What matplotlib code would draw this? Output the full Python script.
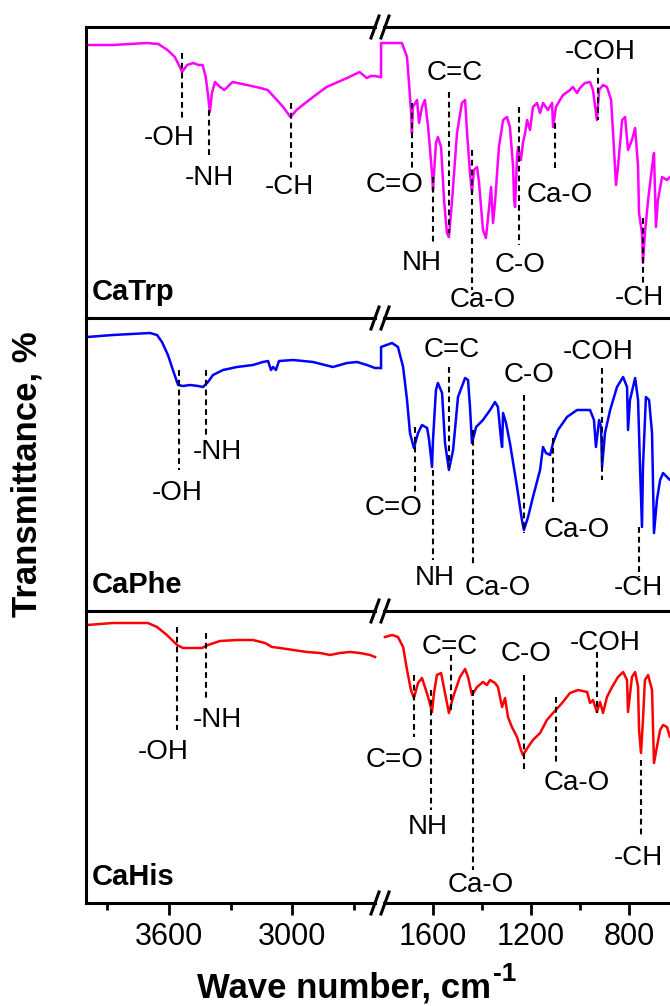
import matplotlib
matplotlib.use("Agg")
import matplotlib.pyplot as plt
from matplotlib.lines import Line2D

plt.rcParams['font.family'] = ['Liberation Sans', 'DejaVu Sans']

# ---- data (wave number, cm-1 / transmittance, arb. units) ----
trp_left_wn = [3995, 3870, 3705, 3650, 3605, 3570, 3545, 3535, 3510, 3480, 3455, 3435, 3420, 3410,
               3400, 3390, 3375, 3350, 3330, 3290, 3220, 3155, 3120, 3075, 3045, 3010, 2980, 2950,
               2900, 2835, 2735, 2675, 2640, 2620, 2600, 2575]
trp_left_t = [273, 273, 275, 274, 268, 261, 251, 246, 253, 255, 253, 253, 241, 225, 206, 225, 236,
              231, 228, 236, 233, 230, 228, 218, 211, 201, 208, 213, 221, 231, 240, 246, 240, 242,
              242, 241]
trp_right_wn = [1812, 1812, 1727, 1706, 1698, 1690, 1686, 1682, 1665, 1657, 1645, 1633, 1620, 1604,
                1600, 1588, 1580, 1567, 1555, 1543, 1535, 1522, 1502, 1482, 1469, 1461, 1449, 1441,
                1433, 1420, 1412, 1396, 1384, 1375, 1363, 1355, 1347, 1331, 1314, 1298, 1286, 1273,
                1269, 1265, 1257, 1253, 1241, 1233, 1224, 1216, 1204, 1192, 1175, 1163, 1151, 1131,
                1114, 1110, 1098, 1082, 1069, 1041, 1029, 1012, 1000, 980, 959, 947, 931, 922, 906,
                890, 873, 865, 853, 845, 828, 816, 804, 788, 775, 763, 759, 747, 743, 735, 722, 706,
                698, 690, 682, 665, 645, 633, 612]
trp_right_t = [241, 275, 275, 261, 235, 208, 185, 211, 218, 195, 211, 218, 191, 145, 128, 175, 181,
               171, 118, 85, 81, 118, 185, 215, 218, 185, 145, 125, 148, 151, 135, 88, 80, 101, 131,
               95, 115, 171, 198, 201, 191, 151, 118, 111, 161, 171, 158, 175, 185, 198, 188, 211,
               215, 205, 215, 208, 215, 191, 211, 218, 223, 228, 231, 225, 230, 235, 236, 228, 198,
               228, 233, 231, 218, 185, 133, 151, 198, 201, 168, 178, 190, 151, 105, 85, 55, 85, 118,
               151, 165, 91, 118, 141, 138, 141, 143]

phe_left_wn = [3995, 3869, 3690, 3656, 3632, 3603, 3579, 3554, 3530, 3496, 3457, 3433, 3409, 3385,
               3336, 3269, 3191, 3143, 3118, 3104, 3094, 3080, 3065, 2997, 2900, 2804, 2736, 2687,
               2639, 2600, 2575]
phe_left_t = [274, 276, 278, 276, 269, 256, 241, 226, 225, 226, 225, 224, 229, 236, 241, 244, 246,
              249, 250, 241, 244, 241, 250, 251, 249, 244, 248, 249, 246, 243, 243]
phe_right_wn = [1812, 1812, 1767, 1743, 1722, 1706, 1694, 1678, 1661, 1645, 1624, 1616, 1604, 1600,
                1588, 1580, 1563, 1551, 1535, 1518, 1498, 1469, 1457, 1449, 1441, 1424, 1396, 1367,
                1347, 1335, 1322, 1318, 1314, 1302, 1286, 1257, 1237, 1229, 1212, 1192, 1163, 1151,
                1139, 1122, 1110, 1090, 1053, 1012, 959, 943, 935, 922, 914, 910, 898, 877, 849, 824,
                808, 804, 796, 775, 763, 755, 747, 743, 731, 718, 706, 698, 686, 673, 661, 645, 633,
                612]
phe_right_t = [243, 264, 268, 264, 244, 211, 178, 163, 178, 186, 183, 171, 144, 171, 221, 228, 218,
               168, 141, 161, 214, 233, 231, 204, 168, 184, 191, 201, 209, 204, 171, 164, 198, 188,
               168, 124, 91, 81, 94, 114, 141, 164, 158, 156, 168, 181, 194, 201, 201, 191, 164, 191,
               184, 144, 178, 201, 224, 234, 224, 181, 211, 233, 211, 144, 84, 144, 214, 211, 178, 78,
               111, 131, 138, 134, 131, 131]

his_left_wn = [3995, 3869, 3700, 3656, 3608, 3559, 3530, 3482, 3438, 3409, 3351, 3269, 3191, 3133,
               3099, 3060, 2997, 2929, 2866, 2818, 2770, 2721, 2673, 2624, 2600]
his_left_t = [278, 280, 280, 276, 268, 258, 255, 255, 255, 258, 262, 263, 263, 260, 256, 255, 253,
              251, 250, 248, 250, 251, 250, 248, 246]
his_right_wn = [1796, 1767, 1743, 1722, 1706, 1690, 1678, 1661, 1645, 1633, 1620, 1604, 1596, 1584,
                1567, 1551, 1535, 1518, 1490, 1469, 1457, 1441, 1420, 1396, 1380, 1367, 1347, 1335,
                1318, 1306, 1294, 1278, 1257, 1241, 1233, 1212, 1192, 1163, 1135, 1110, 1073, 1041,
                1008, 971, 959, 947, 931, 918, 906, 890, 869, 845, 824, 808, 804, 788, 775, 763, 759,
                751, 743, 735, 722, 706, 698, 686, 673, 661, 645, 633, 612]
his_right_t = [266, 268, 266, 256, 233, 213, 205, 220, 225, 216, 206, 191, 210, 228, 230, 210, 190,
               206, 226, 234, 226, 208, 216, 221, 218, 223, 220, 216, 196, 205, 186, 176, 166, 153,
               148, 156, 163, 170, 183, 190, 200, 210, 213, 211, 200, 203, 191, 201, 190, 206, 216,
               226, 231, 223, 191, 226, 231, 216, 173, 150, 183, 223, 228, 213, 140, 156, 173, 178,
               176, 166, 163]

panel_names = ['CaTrp', 'CaPhe', 'CaHis']
colors = ['#ff00ff', '#0000ff', '#ff0000']

# band assignments: (label, wave number, dash top, dash bottom, label wn, label y)
trp_marks = [('-OH', 3535, 265, 200, 3598, 180), ('-NH', 3404, 208, 161, 3404, 140),
             ('-CH', 3007, 215, 150, 3017, 131),
             ('C=O', 1686, 215, 150, 1755, 133), ('NH', 1600, 141, 76, 1645, 55),
             ('C=C', 1535, 226, 85, 1510, 245), ('Ca-O', 1441, 168, 28, 1396, 18),
             ('C-O', 1249, 211, 73, 1245, 53), ('Ca-O', 1102, 195, 150, 1082, 123),
             ('-COH', 926, 250, 198, 918, 266), ('-CH', 743, 100, 35, 759, 20)]
phe_marks = [('-OH', 3550, 241, 141, 3559, 118), ('-NH', 3419, 241, 176, 3365, 159),
             ('C=O', 1673, 184, 118, 1763, 103), ('NH', 1600, 141, 51, 1592, 33),
             ('C=C', 1535, 244, 144, 1522, 261), ('Ca-O', 1437, 181, 44, 1335, 23),
             ('C-O', 1229, 216, 78, 1208, 236), ('Ca-O', 1110, 173, 109, 1012, 81),
             ('-COH', 910, 243, 131, 927, 259), ('-CH', 759, 84, 34, 763, 23)]
his_marks = [('-OH', 3559, 276, 173, 3627, 151), ('-NH', 3419, 270, 205, 3365, 183),
             ('C=O', 1678, 228, 166, 1755, 143), ('NH', 1608, 213, 93, 1620, 76),
             ('C=C', 1527, 248, 191, 1531, 256), ('Ca-O', 1437, 213, 33, 1404, 18),
             ('C-O', 1229, 228, 130, 1220, 249), ('Ca-O', 1098, 206, 141, 1012, 120),
             ('-COH', 931, 251, 190, 898, 260), ('-CH', 751, 143, 66, 763, 45)]

left_major = [3600, 3000]
left_minor = [3900, 3300, 2700]
right_major = [1600, 1200, 800]
right_minor = [1400, 1000, 600]

data = [
    (trp_left_wn, trp_left_t, trp_right_wn, trp_right_t, trp_marks),
    (phe_left_wn, phe_left_t, phe_right_wn, phe_right_t, phe_marks),
    (his_left_wn, his_left_t, his_right_wn, his_right_t, his_marks),
]

# ---- figure ----
W, H = 670, 1006
fig = plt.figure(figsize=(W / 100, H / 100), dpi=100)

rows_px = [(27, 318), (318, 611), (611, 903)]
left_px = (86, 375)
right_px = (384, 727)


def fx(px):
    return px / W


def fy(py):
    return 1 - py / H


for i, (lw_, lt, rw, rt, marks) in enumerate(data):
    top, bot = rows_px[i]
    hgt = bot - top
    axl = fig.add_axes([fx(left_px[0]), fy(bot), fx(left_px[1] - left_px[0]), hgt / H])
    axr = fig.add_axes([fx(right_px[0]), fy(bot), fx(right_px[1] - right_px[0]), hgt / H])
    axl.set_xlim(4000, 2600)
    axr.set_xlim(1800, 400)
    for ax in (axl, axr):
        ax.set_ylim(0, hgt)
        ax.set_yticks([])
        for s in ax.spines.values():
            s.set_linewidth(2.2)
        ax.tick_params(axis='x', which='both', direction='out', top=False,
                       width=2.0, labelsize=22, pad=5)
        ax.tick_params(axis='x', which='major', length=8.5)
        ax.tick_params(axis='x', which='minor', length=5)
        if i < 2:
            ax.tick_params(axis='x', which='both', labelbottom=False)
    axl.spines['right'].set_visible(False)
    axr.spines['left'].set_visible(False)
    axl.set_xticks(left_major)
    axl.set_xticks(left_minor, minor=True)
    axr.set_xticks(right_major)
    axr.set_xticks(right_minor, minor=True)

    axl.plot(lw_, lt, color=colors[i], lw=1.8, clip_on=False)
    axr.plot(rw, rt, color=colors[i], lw=1.8, clip_on=False)

    for lab, wn, y0, y1, lx, ly in marks:
        ax = axl if wn > 2000 else axr
        ax.plot([wn, wn], [y0, y1], color='black', lw=1.5, dashes=(2.8, 1.9))
        ax.text(lx, ly, lab, fontsize=20, ha='center', va='center', clip_on=False)

    axl.text(0.02, 0.09, panel_names[i], transform=axl.transAxes, fontsize=21,
             fontweight='bold', ha='left', va='center')

# axis break marks
for py in [27, 318, 611, 903]:
    for px in [375, 385]:
        fig.add_artist(Line2D([fx(px - 4), fx(px + 4)], [fy(py + 11), fy(py - 11)],
                              color='black', lw=2.2))

fig.text(fx(27), fy(474), 'Transmittance, %', rotation=90, fontsize=25,
         fontweight='bold', ha='center', va='center')
xl = fig.text(fx(197), fy(988), 'Wave number, cm', fontsize=25,
              fontweight='bold', ha='left', va='center')
fig.canvas.draw()
bb = xl.get_window_extent()
fig.text((bb.x1 + 2) / W, fy(974), '-1', fontsize=19, fontweight='bold',
         ha='left', va='center')

fig.savefig('out.png', dpi=100)
